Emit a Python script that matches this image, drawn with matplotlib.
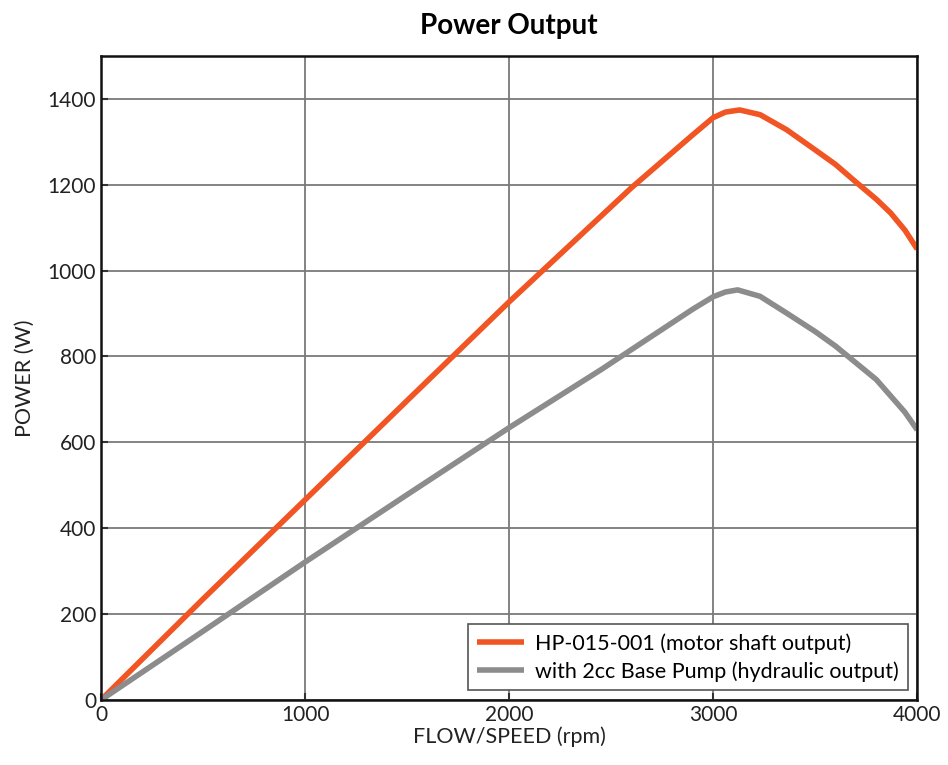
import matplotlib.pyplot as plt

plt.rcParams['font.family'] = ['Lato', 'DejaVu Sans']

# values
speed_motor = [0, 500, 1000, 1500, 2000, 2600, 2900, 3000, 3060, 3130, 3230, 3360, 3500, 3600, 3700, 3800, 3870, 3940, 4000]
power_motor = [0, 235, 466, 697, 927, 1193, 1316, 1356, 1369, 1374, 1363, 1328, 1281, 1247, 1206, 1166, 1134, 1094, 1050]

speed_pump = [0, 500, 1000, 1500, 2000, 2450, 2900, 3000, 3060, 3120, 3230, 3360, 3500, 3600, 3700, 3800, 3870, 3940, 4000]
power_pump = [0, 160, 321, 478, 634, 769, 910, 939, 950, 955, 940, 901, 858, 824, 785, 746, 708, 670, 629]

label_motor = "HP-015-001 (motor shaft output)"
label_pump = "with 2cc Base Pump (hydraulic output)"

fig = plt.figure(figsize=(9.48, 7.65), dpi=100)
ax = fig.add_axes([0.1065, 0.085, 0.861, 0.842])

ax.plot(speed_motor, power_motor, color='#f05523', lw=4, label=label_motor,
        solid_capstyle='butt', solid_joinstyle='round')
ax.plot(speed_pump, power_pump, color='#8c8c8c', lw=4, label=label_pump,
        solid_capstyle='butt', solid_joinstyle='round')

ax.set_xlim(0, 4000)
ax.set_ylim(0, 1500)
ax.set_xticks([0, 1000, 2000, 3000, 4000])
ax.set_yticks(range(0, 1401, 200))
ax.grid(True, color='#7a7a7a', lw=1.3)
ax.set_axisbelow(True)
ax.tick_params(direction='in', length=5, width=1.5, colors='#333333', labelsize=15, labelcolor='#222222')
for s in ax.spines.values():
    s.set_linewidth(1.8)
    s.set_color('#111111')

ax.set_title("Power Output", fontsize=20, fontweight='bold', pad=16)
ax.set_xlabel("FLOW/SPEED (rpm)", fontsize=15.5, labelpad=1, color='#222222')
ax.set_ylabel("POWER (W)", fontsize=15.5, labelpad=9, color='#222222')

leg = ax.legend(loc='lower right', fontsize=15.5, fancybox=False, framealpha=1,
                edgecolor='#555555', borderpad=0.4, handlelength=2.2,
                handletextpad=0.5, labelspacing=0.35, borderaxespad=0.45)
leg.get_frame().set_linewidth(1.2)

fig.savefig("out.png", dpi=100)
